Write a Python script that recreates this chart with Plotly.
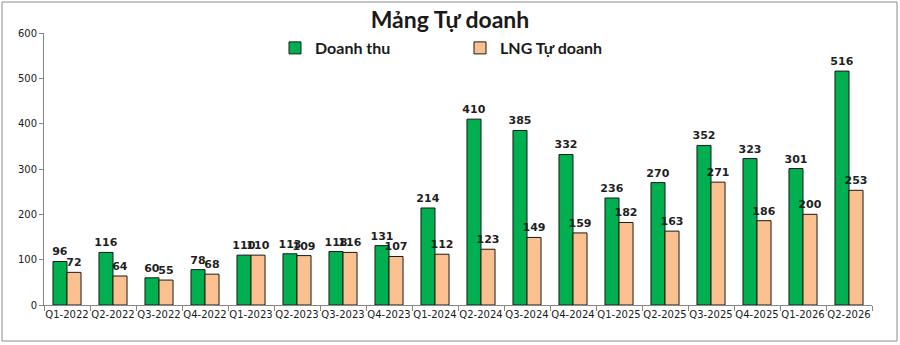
import plotly.graph_objects as go

quarters = ["Q1-2022", "Q2-2022", "Q3-2022", "Q4-2022",
            "Q1-2023", "Q2-2023", "Q3-2023", "Q4-2023",
            "Q1-2024", "Q2-2024", "Q3-2024", "Q4-2024",
            "Q1-2025", "Q2-2025", "Q3-2025", "Q4-2025",
            "Q1-2026", "Q2-2026"]
doanh_thu = [96, 116, 60, 78, 110, 113, 118, 131, 214, 410, 385, 332, 236, 270, 352, 323, 301, 516]
lng_tu_doanh = [72, 64, 55, 68, 110, 109, 116, 107, 112, 123, 149, 159, 182, 163, 271, 186, 200, 253]

W, H = 900, 345
L, R, T, B = 44, 28, 33, 40
pw, ph = W - L - R, H - T - B

label_font = dict(family="DejaVu Sans", size=11, color="#1f1f1f")

fig = go.Figure()
fig.add_trace(go.Bar(
    x=quarters, y=doanh_thu, name="<b>Doanh thu</b>",
    marker=dict(color="#00B050", line=dict(color="#1a1a1a", width=1)),
    text=[str(v) for v in doanh_thu], textposition="outside",
    textfont=label_font, constraintext="none", cliponaxis=False,
    texttemplate="<b>%{text}</b>",
))
fig.add_trace(go.Bar(
    x=quarters, y=lng_tu_doanh, name="<b>LNG Tự doanh</b>",
    marker=dict(color="#FAC090", line=dict(color="#1a1a1a", width=1)),
    text=[str(v) for v in lng_tu_doanh], textposition="outside",
    textfont=label_font, constraintext="none", cliponaxis=False,
    texttemplate="<b>%{text}</b>",
))

def px_x(px):
    return (px - L) / pw

def px_y(py):
    return (H - B - py) / ph

fig.update_layout(
    width=W, height=H,
    margin=dict(l=L, r=R, t=T, b=B),
    paper_bgcolor="white", plot_bgcolor="white",
    barmode="group", bargap=0.39, bargroupgap=0,
    title=dict(text="<b>Mảng Tự doanh</b>", x=0.5, xanchor="center",
               y=1 - 20 / H, yanchor="middle", yref="container",
               font=dict(family="Lato", size=23, color="#1a1a1a")),
    legend=dict(orientation="h", x=px_x(275), xanchor="left",
                y=px_y(48), yanchor="middle",
                font=dict(family="Lato", size=16, color="#1a1a1a"),
                entrywidth=140, bgcolor="rgba(0,0,0,0)",
                itemclick=False),
    showlegend=True,
    xaxis=dict(type="category", showline=True, linecolor="#868686",
               ticks="outside", tickson="boundaries", ticklen=5,
               tickcolor="#868686", showgrid=False, tickangle=0,
               tickfont=dict(family="DejaVu Sans", size=10, color="#1a1a1a")),
    yaxis=dict(range=[0, 600], dtick=100, showline=True, linecolor="#868686",
               ticks="outside", ticklen=4, tickcolor="#868686",
               showgrid=False, zeroline=False,
               tickfont=dict(family="DejaVu Sans", size=10, color="#1a1a1a")),
    shapes=[dict(type="rect", xref="paper", yref="paper",
                 x0=px_x(2), x1=px_x(897), y0=px_y(341), y1=px_y(2),
                 line=dict(color="#8c8c8c", width=1), layer="below")],
)

fig.write_html("out.html")
